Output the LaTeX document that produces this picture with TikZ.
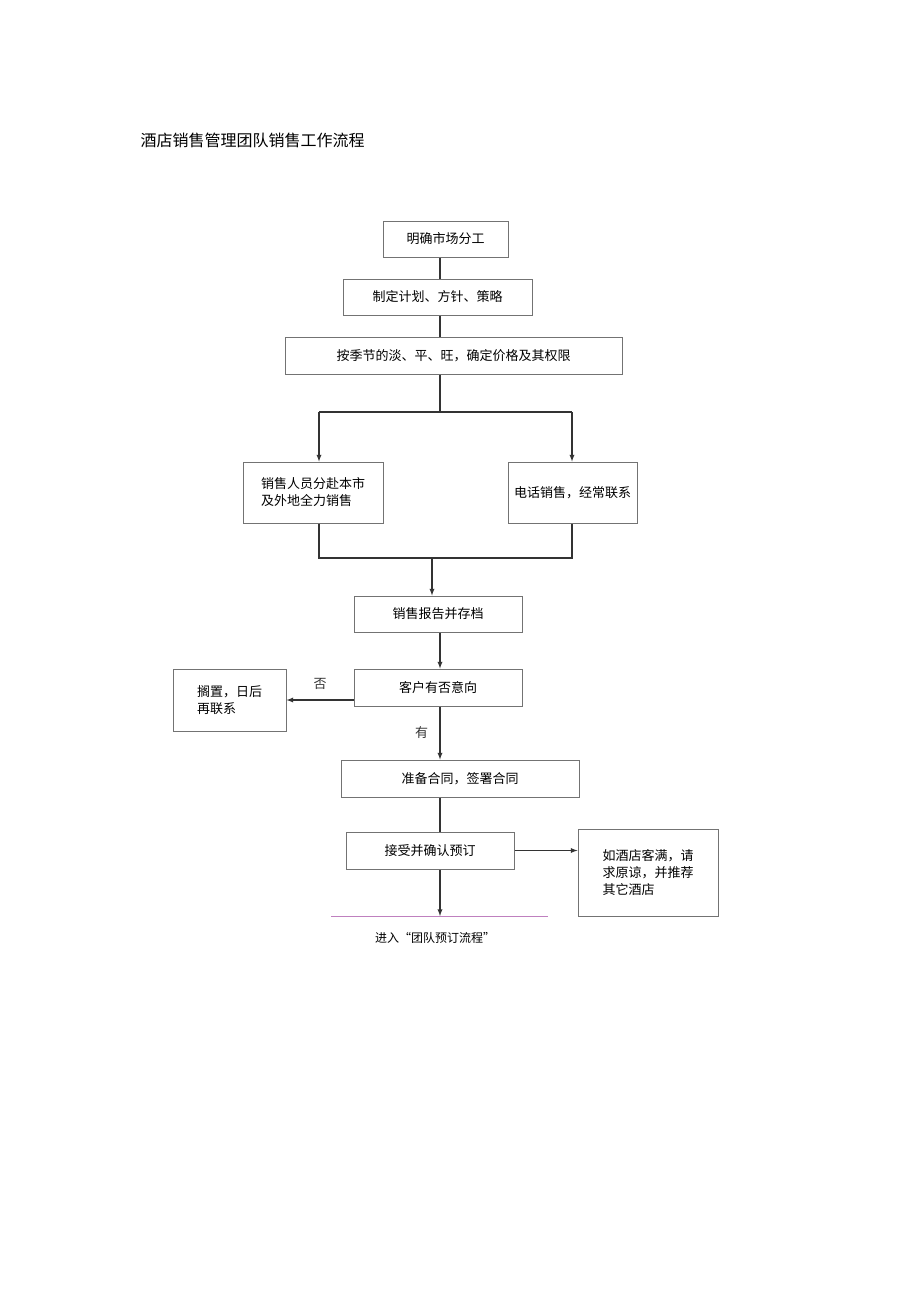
\documentclass[tikz,border=0pt]{standalone}
\usepackage{fontspec}
\setmainfont{Noto Sans CJK SC}
\begin{document}
\begin{tikzpicture}[x=1pt,y=-1pt,
  bx/.style={draw=black!55,line width=1pt,font=\fontsize{13}{17}\selectfont,align=left},
  ln/.style={line width=1.3pt,black!80},
  ar/.style={ln,-latex}]
\useasboundingbox (0,0) rectangle (920,1301);
\node[anchor=west,font=\fontsize{16}{18}\selectfont] (title) at (137,140) {酒店销售管理团队销售工作流程};
\newcommand\bxat[6]{\node[bx,minimum width=#3-#1,minimum height=#4-#2] (#5) at ({(#1+#3)/2},{(#2+#4)/2}) {#6};}
\bxat{383}{221}{508}{257}{a}{明确市场分工}
\bxat{343}{279}{532}{315}{b}{制定计划、方针、策略}
\bxat{285}{337}{622}{374}{c}{按季节的淡、平、旺，确定价格及其权限}
\bxat{243}{462}{383}{523}{d}{销售人员分赴本市\\及外地全力销售}
\bxat{508}{462}{637}{523}{e}{电话销售，经常联系}
\bxat{354}{596}{522}{632}{f}{销售报告并存档}
\bxat{354}{669}{522}{706}{g}{客户有否意向}
\bxat{173}{669}{286}{731}{h}{搁置，日后\\再联系}
\bxat{341}{760}{579}{797}{i}{准备合同，签署合同}
\bxat{346}{832}{514}{869}{j}{接受并确认预订}
\bxat{578}{829}{718}{916}{k}{如酒店客满，请\\求原谅，并推荐\\其它酒店}
\coordinate (s1) at (440,412);
\coordinate (s2) at (432,558);
\draw[ln] (a.south-|440,0) -- (b.north-|440,0);
\draw[ln] (b.south-|440,0) -- (c.north-|440,0);
\draw[ln] (c.south-|440,0) -- (s1);
\draw[ar] (319,412) -- (d.north-|319,0);
\draw[ar] (572,412) -- (e.north-|572,0);
\draw[ln] (319,412) -- (572,412);
\draw[ln] (d.south-|319,0) -- (319,558) -- (572,558) -- (e.south-|572,0);
\draw[ar] (s2) -- (f.north-|432,0);
\draw[ar] (f.south-|440,0) -- (g.north-|440,0);
\draw[ar] (g.west|-0,700) -- (h.east|-0,700) node[pos=0.5,above=6pt,font=\fontsize{13}{15}\selectfont] {否};
\draw[ar] (g.south-|440,0) -- node[left=8pt,font=\fontsize{13}{15}\selectfont] {有} (i.north-|440,0);
\draw[ln] (i.south-|440,0) -- (j.north-|440,0);
\draw[ar] (j.east) -- (k.west|-j.east);
\coordinate (end) at (440,916);
\draw[ar] (j.south-|440,0) -- (end);
\draw[draw=violet!50,line width=1pt] (331,916) -- (548,916);
\node[font=\fontsize{12}{14}\selectfont] (t) at (435,938) {进入“团队预订流程”};
\end{tikzpicture}
\end{document}
